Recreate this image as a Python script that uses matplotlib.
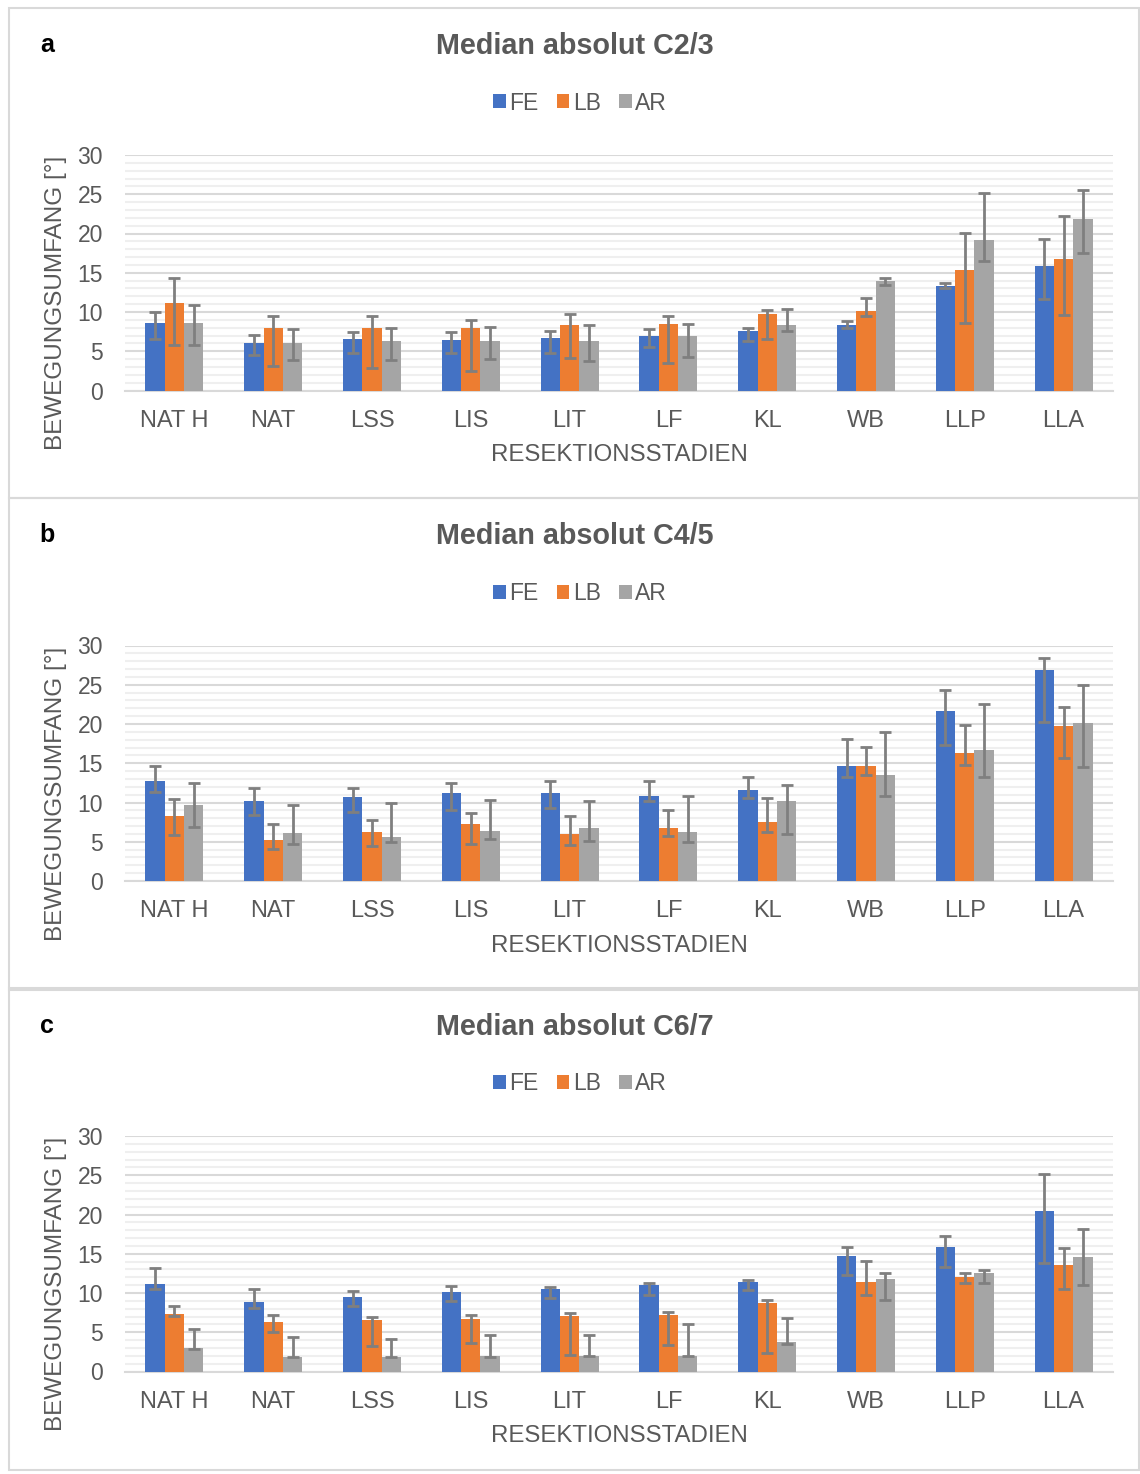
import matplotlib
matplotlib.use("Agg")
import matplotlib.pyplot as plt
import numpy as np
from matplotlib.patches import Rectangle, Patch
from matplotlib.ticker import MultipleLocator

plt.rcParams['font.family'] = ['Liberation Sans', 'DejaVu Sans']

categories = ["NAT H", "NAT", "LSS", "LIS", "LIT", "LF", "KL", "WB", "LLP", "LLA"]
series_names = ["FE", "LB", "AR"]
titles = ["Median absolut C2/3", "Median absolut C4/5", "Median absolut C6/7"]
panel_letters = ["a", "b", "c"]

# Panel a (C2/3): median, lower and upper error-bar ends
a_fe = [8.6, 6.1, 6.5, 6.4, 6.7, 7.0, 7.6, 8.3, 13.3, 15.9]
a_fe_lo = [6.6, 4.5, 4.8, 4.8, 4.8, 5.6, 6.3, 7.9, 13.0, 11.6]
a_fe_hi = [10.0, 7.1, 7.4, 7.5, 7.6, 7.8, 7.9, 8.8, 13.7, 19.3]
a_lb = [11.1, 7.9, 7.9, 7.9, 8.4, 8.5, 9.7, 10.1, 15.3, 16.7]
a_lb_lo = [5.8, 3.1, 2.9, 2.5, 4.1, 3.5, 6.6, 9.5, 8.6, 9.6]
a_lb_hi = [14.3, 9.5, 9.5, 9.0, 9.8, 9.5, 10.3, 11.8, 20.1, 22.2]
a_ar = [8.6, 6.0, 6.3, 6.3, 6.3, 7.0, 8.4, 14.0, 19.2, 21.9]
a_ar_lo = [5.8, 3.9, 3.9, 4.0, 3.8, 4.3, 7.6, 13.5, 16.5, 17.5]
a_ar_hi = [10.9, 7.8, 7.9, 8.1, 8.4, 8.5, 10.4, 14.3, 25.2, 25.5]

# Panel b (C4/5)
b_fe = [12.8, 10.2, 10.7, 11.2, 11.2, 10.8, 11.6, 14.7, 21.6, 26.9]
b_fe_lo = [11.4, 8.4, 8.8, 9.1, 9.3, 10.2, 10.6, 13.2, 17.3, 20.2]
b_fe_hi = [14.6, 11.9, 11.9, 12.5, 12.8, 12.8, 13.2, 18.1, 24.3, 28.4]
b_lb = [8.3, 5.2, 6.2, 7.3, 6.0, 6.8, 7.5, 14.6, 16.3, 19.8]
b_lb_lo = [5.9, 4.1, 4.4, 4.7, 4.6, 5.7, 6.2, 13.5, 14.8, 15.7]
b_lb_hi = [10.5, 7.3, 7.8, 8.7, 8.3, 9.1, 10.6, 17.1, 19.9, 22.2]
b_ar = [9.7, 6.1, 5.6, 6.4, 6.8, 6.3, 10.2, 13.5, 16.7, 20.1]
b_ar_lo = [6.9, 4.7, 5.0, 5.4, 5.1, 5.0, 6.0, 10.8, 13.3, 14.5]
b_ar_hi = [12.5, 9.7, 9.9, 10.3, 10.2, 10.8, 12.2, 19.0, 22.5, 25.0]

# Panel c (C6/7)
c_fe = [11.1, 8.8, 9.5, 10.1, 10.5, 11.0, 11.4, 14.7, 15.8, 20.4]
c_fe_lo = [10.5, 8.1, 8.4, 9.0, 9.4, 9.8, 10.4, 12.3, 13.3, 13.8]
c_fe_hi = [13.2, 10.5, 10.2, 10.9, 10.8, 11.3, 11.7, 15.9, 17.3, 25.2]
c_lb = [7.3, 6.3, 6.5, 6.7, 7.1, 7.2, 8.7, 11.4, 12.1, 13.6]
c_lb_lo = [7.1, 5.0, 3.3, 3.6, 2.1, 3.4, 2.4, 9.8, 11.3, 10.5]
c_lb_hi = [8.3, 7.2, 6.9, 7.2, 7.5, 7.6, 9.1, 14.1, 12.5, 15.7]
c_ar = [3.0, 1.9, 1.9, 2.0, 2.0, 2.0, 3.8, 11.8, 12.5, 14.6]
c_ar_lo = [2.9, 1.9, 1.9, 1.9, 2.0, 2.0, 3.5, 9.1, 11.3, 11.0]
c_ar_hi = [5.4, 4.4, 4.1, 4.6, 4.6, 6.1, 6.8, 12.5, 12.9, 18.1]

panels = [
    [(a_fe, a_fe_lo, a_fe_hi), (a_lb, a_lb_lo, a_lb_hi), (a_ar, a_ar_lo, a_ar_hi)],
    [(b_fe, b_fe_lo, b_fe_hi), (b_lb, b_lb_lo, b_lb_hi), (b_ar, b_ar_lo, b_ar_hi)],
    [(c_fe, c_fe_lo, c_fe_hi), (c_lb, c_lb_lo, c_lb_hi), (c_ar, c_ar_lo, c_ar_hi)],
]

colors = ["#4472C4", "#ED7D31", "#A5A5A5"]
err_color = "#7F7F7F"
text_color = "#595959"

W, H = 1140, 1474
fig = plt.figure(figsize=(W / 100, H / 100), dpi=100)


def fx(px):
    return px / W


def fy(py):
    return 1 - py / H


panel_tops = [8, 498, 988]
panel_bottoms = [498, 990, 1470]
offsets = [0, 490.5, 981]

for i in range(3):
    # panel border
    fig.patches.append(Rectangle((fx(9), fy(panel_bottoms[i])), fx(1139) - fx(9),
                                 fy(panel_tops[i]) - fy(panel_bottoms[i]),
                                 transform=fig.transFigure, fill=False,
                                 edgecolor="#D9D9D9", linewidth=1.5, zorder=0))
    off = offsets[i]
    top, bot = 155 + off, 390.5 + off
    ax = fig.add_axes([fx(125), fy(bot), fx(1113) - fx(125), fy(top) - fy(bot)])
    x = np.arange(len(categories))
    bw = 0.196
    for j, (vals, lo, hi) in enumerate(panels[i]):
        vals = np.array(vals)
        lo = np.array(lo)
        hi = np.array(hi)
        pos = x + (j - 1) * bw
        ax.bar(pos, vals, width=bw, color=colors[j], zorder=3, linewidth=0)
        ax.errorbar(pos, vals, yerr=[vals - lo, hi - vals], fmt="none",
                    ecolor=err_color, elinewidth=2, capsize=4, capthick=2, zorder=4)
    ax.set_xlim(-0.5, len(categories) - 0.5)
    ax.set_ylim(0, 30)
    ax.yaxis.set_major_locator(MultipleLocator(5))
    ax.yaxis.set_minor_locator(MultipleLocator(1))
    ax.grid(which="major", axis="y", color="#D9D9D9", linewidth=1.5, zorder=1)
    ax.grid(which="minor", axis="y", color="#EFEFEF", linewidth=1.5, zorder=0)
    ax.set_axisbelow(True)
    for s in ["top", "right", "left"]:
        ax.spines[s].set_visible(False)
    ax.spines["bottom"].set_color("#D9D9D9")
    ax.spines["bottom"].set_linewidth(1.5)
    ax.tick_params(axis="both", which="both", length=0)
    ax.tick_params(axis="y", pad=16, labelsize=16.5, labelcolor=text_color)
    ax.tick_params(axis="x", pad=14, labelsize=17, labelcolor=text_color)
    ax.set_xticks(x)
    ax.set_xticklabels(categories)

    fig.text(fx(619), fy(455 + off), "RESEKTIONSSTADIEN", ha="center", va="center",
             fontsize=17.3, color=text_color)
    fig.text(fx(56), fy(303 + off), "BEWEGUNGSUMFANG [°]", ha="center", va="center",
             rotation=90, fontsize=17.5, color=text_color)
    fig.text(fx(575), fy(46 + off), titles[i], ha="center", va="center",
             fontsize=20.7, fontweight="bold", color=text_color)
    fig.text(fx(47), fy(45 + off), panel_letters[i], ha="center", va="center",
             fontsize=18, fontweight="bold", color="black")
    handles = [Patch(facecolor=c, edgecolor="none") for c in colors]
    fig.legend(handles, series_names, loc="center", bbox_to_anchor=(fx(580), fy(103 + off)),
               ncol=3, frameon=False, fontsize=16.5, labelcolor=text_color,
               handlelength=0.55, handleheight=0.55, handletextpad=0.15,
               columnspacing=0.8, borderaxespad=0)

fig.savefig("out.png", dpi=100)
